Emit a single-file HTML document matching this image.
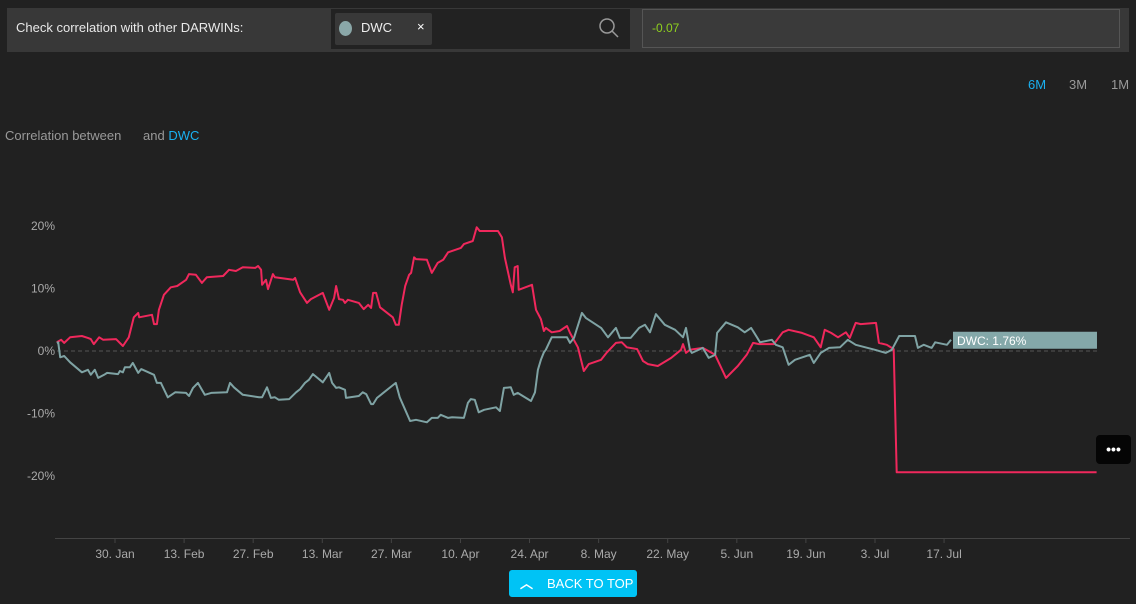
<!DOCTYPE html>
<html><head><meta charset="utf-8"><style>
body{margin:0;width:1136px;height:604px;background:#212121;font-family:"Liberation Sans",sans-serif;overflow:hidden;position:relative;color:#ddd}
.abs{position:absolute}
</style></head><body>
<div class="abs" style="left:7px;top:8px;width:1122px;height:44px;background:#383838"></div>
<div class="abs" style="left:16px;top:20px;font-size:13px;color:#e8e8e8">Check correlation with other DARWINs:</div>
<div class="abs" style="left:331px;top:9px;width:299px;height:40px;background:#222"></div>
<div class="abs" style="left:335px;top:13px;width:97px;height:32px;background:#383838;border-radius:2px"></div>
<div class="abs" style="left:339px;top:21px;width:13px;height:15px;border-radius:50%;background:#8aa7a8"></div>
<div class="abs" style="left:361px;top:20px;font-size:13px;color:#eee">DWC</div>
<div class="abs" style="left:417px;top:19px;font-size:13px;color:#fff">×</div>
<svg class="abs" style="left:597px;top:16px" width="24" height="24"><circle cx="10" cy="10" r="7" fill="none" stroke="#999" stroke-width="1.5"/><line x1="15" y1="15" x2="21" y2="21" stroke="#999" stroke-width="1.5"/></svg>
<div class="abs" style="left:642px;top:9px;width:476px;height:37px;background:#3a3a3a;border:1px solid #555"></div>
<div class="abs" style="left:652px;top:21px;font-size:12px;color:#8fd11e">-0.07</div>
<div class="abs" style="left:1028px;top:77px;font-size:13px;color:#1ab0f0">6M</div>
<div class="abs" style="left:1069px;top:77px;font-size:13px;color:#999">3M</div>
<div class="abs" style="left:1111px;top:77px;font-size:13px;color:#999">1M</div>
<div class="abs" style="left:5px;top:128px;font-size:13px;color:#999">Correlation between &nbsp;&nbsp;&nbsp;&nbsp;&nbsp;and <span style="color:#1ab0f0">DWC</span></div>
<svg class="abs" id="chart" style="left:0;top:0" width="1136" height="604"></svg>
<div class="abs" style="left:1096px;top:435px;width:35px;height:29px;background:#050505;border-radius:4px;color:#fff;font-size:14px;text-align:center;line-height:28px;font-weight:bold">•••</div>
<div class="abs" style="left:509px;top:570px;width:128px;height:27px;background:#00c3f5;border-radius:3px;color:#fff;font-size:13px;line-height:27px"><span style="position:absolute;left:11px;top:0;font-weight:bold">︿</span><span style="position:absolute;left:38px">BACK TO TOP</span></div>
<script>
const yTicks=[20,10,0,-10,-20];
const xTickLabels=["30. Jan","13. Feb","27. Feb","13. Mar","27. Mar","10. Apr","24. Apr","8. May","22. May","5. Jun","19. Jun","3. Jul","17. Jul"];
const xTickDays=[0,14,28,42,56,70,84,98,112,126,140,154,168];
const redDays=[-11.8,-10.9,-10.3,-9.1,-6.7,-5.5,-4.9,-4.3,-3.2,-2.4,0.2,1.6,2.8,3.8,4.7,4.9,7.5,7.9,8.5,8.9,9.9,11.3,12.6,14.4,15.0,16.4,17.6,18.6,21.9,23.1,24.5,25.9,28.4,29.0,29.6,29.8,30.6,31.0,32.0,32.4,36.1,36.5,37.5,38.9,39.7,42.1,43.4,44.4,44.8,45.4,46.2,46.6,47.2,49.4,50.4,51.3,51.9,52.3,52.9,53.7,56.3,56.9,57.5,58.1,58.8,59.6,60.0,60.6,61.0,63.2,64.2,65.4,66.5,67.5,70.1,70.7,72.5,73.3,73.9,77.6,78.4,79.0,80.2,80.6,81.0,81.6,81.8,84.5,85.3,86.3,86.9,87.3,88.5,90.1,91.6,92.2,93.8,95.0,96.0,98.5,99.7,101.5,102.7,103.7,105.8,107.0,108.0,110.0,112.7,114.7,115.1,115.7,116.5,119.1,121.6,122.8,123.8,126.2,128.0,129.3,130.5,133.5,135.3,136.5,139.2,141.6,143.0,143.8,145.1,146.5,148.1,148.9,150.1,151.1,154.2,154.8,156.4,157.8,158.4,198.9];
const redValues=[1.4,1.8,1.3,2.2,2.4,2.1,1.9,1.1,2.2,1.8,1.9,0.8,2.2,5.4,6.1,5.4,5.8,4.3,4.3,6.6,9.0,10.2,10.4,11.4,12.3,12.2,10.9,11.8,12.0,13.0,12.8,13.4,13.3,13.6,13.0,10.6,11.4,9.9,12.3,11.8,11.4,11.7,9.4,7.7,8.3,9.3,6.6,8.5,10.4,8.3,8.2,7.7,8.2,7.7,6.7,7.4,6.9,9.3,9.3,7.0,5.4,4.2,4.2,7.4,10.4,12.2,12.5,15.0,14.7,14.6,12.5,14.1,14.6,15.8,16.5,17.1,17.6,19.8,19.2,19.2,18.2,14.9,10.6,9.4,13.4,13.6,9.8,10.6,6.6,5.1,3.2,3.7,3.0,3.2,4.0,2.9,0.6,-3.2,-2.1,-1.4,-0.2,1.3,1.4,0.6,0.3,-1.6,-2.1,-2.4,-1.1,0.2,1.1,-0.3,0.2,0.5,-0.6,-2.6,-4.3,-2.4,-0.6,1.3,1.1,1.1,3.0,3.4,2.9,2.2,0.6,3.4,2.9,2.2,3.0,2.1,4.5,4.3,4.5,1.3,1.0,0.3,-19.4,-19.4];
const tealDays=[-11.8,-11.5,-11.1,-10.3,-9.1,-6.7,-5.5,-4.9,-4.1,-3.4,-2.2,-1.6,0.6,1.0,1.6,2.0,3.0,3.6,4.7,5.3,7.9,8.5,9.3,10.7,12.2,14.4,15.0,15.8,16.8,18.2,19.5,22.7,23.3,24.1,25.9,29.2,29.8,30.8,31.6,32.4,33.2,35.3,36.7,37.5,38.5,39.3,40.1,42.1,43.4,44.0,44.8,45.4,46.6,46.8,49.4,50.2,50.9,51.9,52.3,53.1,56.9,57.7,58.8,59.8,61.0,63.2,64.2,65.4,66.0,67.5,68.3,70.7,71.5,72.1,72.9,73.7,74.8,77.2,78.0,78.8,80.2,80.8,81.6,84.3,85.1,85.7,86.3,86.9,87.3,88.5,91.6,92.2,93.0,94.6,95.4,98.5,99.9,101.5,102.3,104.5,106.2,107.4,108.4,109.6,111.4,113.5,115.1,115.7,116.5,116.9,119.1,120.3,121.6,122.0,123.8,126.2,127.6,128.9,130.1,130.7,133.1,133.9,135.3,136.5,137.8,140.8,141.6,143.0,144.7,146.9,148.5,150.1,154.0,156.2,157.4,158.9,162.1,162.7,163.9,165.5,166.2,168.6,169.4];
const tealValues=[1.3,1.4,-1.0,-0.8,-1.8,-3.4,-3.0,-3.8,-3.0,-4.3,-3.8,-3.5,-3.7,-3.2,-3.4,-2.6,-2.6,-1.9,-3.5,-2.9,-3.8,-5.1,-5.1,-7.4,-6.6,-6.7,-7.2,-5.9,-5.1,-7.0,-6.7,-6.6,-5.1,-5.8,-7.0,-7.4,-7.4,-5.8,-7.5,-7.4,-7.8,-7.7,-6.6,-6.1,-5.1,-4.6,-3.7,-5.0,-3.5,-5.1,-5.9,-5.8,-6.2,-7.5,-7.2,-6.6,-6.9,-8.5,-8.5,-7.5,-5.1,-7.4,-9.4,-11.2,-11.0,-11.4,-10.7,-10.7,-10.2,-10.7,-10.6,-10.7,-8.3,-7.7,-7.8,-9.8,-9.4,-9.0,-9.6,-5.9,-5.8,-7.0,-6.7,-8.0,-6.6,-3.0,-1.4,-0.2,0.2,2.2,2.2,1.3,2.1,6.1,5.3,3.7,2.2,3.7,2.1,2.1,3.7,4.2,3.0,5.9,4.2,3.4,2.2,3.7,0.2,-0.3,0.5,-1.1,-0.6,2.9,4.6,3.8,3.0,3.7,2.2,1.4,1.8,1.0,0.6,-2.2,-1.4,-0.6,-1.9,-0.3,0.5,0.6,1.8,1.0,0.2,-0.3,0.2,2.4,2.4,0.5,1.0,0.5,1.4,1.0,1.8];
const lastLabel="DWC: 1.76%";

const svg=document.getElementById('chart');
const NS='http://www.w3.org/2000/svg';
function x(d){return 115+d*4.935;}
function y(v){return 351-v*6.25;}
function mk(tag,attrs,name){const e=document.createElementNS(NS,tag);for(const k in attrs)e.setAttribute(k,attrs[k]);


svg.appendChild(e);return e;}
yTicks.forEach(v=>{const t=mk('text',{x:55,y:y(v)+4,'text-anchor':'end','font-size':12,fill:'#aaa','font-family':'Liberation Sans'},'y-tick-label');t.textContent=v+'%';});
mk('line',{x1:57,x2:1097,y1:y(0),y2:y(0),stroke:'#555','stroke-dasharray':'4,3'},'zero-line');
mk('line',{x1:55,x2:1130,y1:538.5,y2:538.5,stroke:'#444'},'x-axis');
xTickDays.forEach((d,i)=>{mk('line',{x1:x(d),x2:x(d),y1:538,y2:543,stroke:'#444'},'x-tick');
const t=mk('text',{x:x(d),y:558,'text-anchor':'middle','font-size':12,fill:'#aaa','font-family':'Liberation Sans'},'x-tick-label');t.textContent=xTickLabels[i];});
function line(ds,vs,c,name){mk('polyline',{points:ds.map((d,i)=>x(d).toFixed(1)+','+y(vs[i]).toFixed(1)).join(' '),fill:'none',stroke:c,'stroke-width':2,'stroke-linejoin':'round'},name);}
line(redDays,redValues,'#f0285c','series-red-line');
line(tealDays,tealValues,'#7fa3a4','series-dwc-line');
const lx=x(tealDays[tealDays.length-1])+2, ly=y(tealValues[tealValues.length-1]);
mk('rect',{x:lx,y:ly-8,width:144,height:17,fill:'#84a8a9'},'dwc-value-label-bg');
const lt=mk('text',{x:lx+4,y:ly+5,'font-size':12,fill:'#fff','font-family':'Liberation Sans'},'dwc-value-label');lt.textContent=lastLabel;
</script>
</body></html>
